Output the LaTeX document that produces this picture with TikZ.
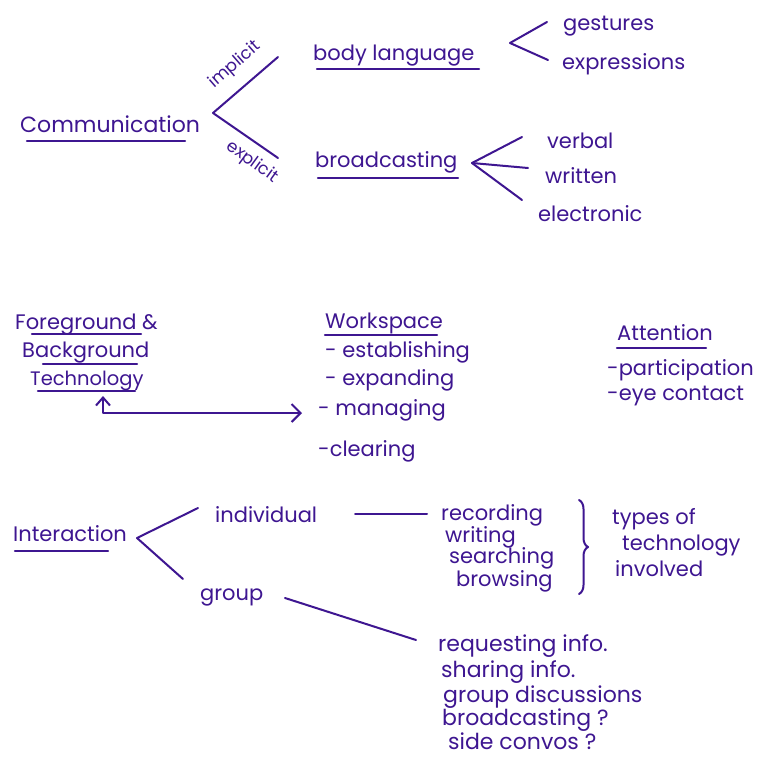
\documentclass[tikz,border=0pt]{standalone}
\usepackage{fontspec}
\setmainfont{Poppins}
\usetikzlibrary{arrows.meta,decorations.pathreplacing}
\definecolor{ink}{RGB}{62,22,145}
\tikzset{
  hand/.style={inner sep=0pt, anchor=base west, text=ink, font=\fontsize{21}{24}\selectfont},
  big/.style={font=\fontsize{22}{26}\selectfont},
  lower/.style={font=\fontsize{22}{26}\selectfont},
  narrow/.style={font=\fontsize{19.5}{22}\selectfont},
  small/.style={font=\fontsize{17}{20}\selectfont},
  ink line/.style={draw=ink, line width=2pt, line cap=round, line join=round},
  ul/.style={ink line, line width=2.2pt},
  barb/.style={ink line, arrows={Straight Barb[length=8pt,width=14pt,line width=2pt]-Straight Barb[length=9pt,width=18pt,line width=2pt]}}
}
\begin{document}
\begin{tikzpicture}[x=1pt,y=-1pt]
\useasboundingbox[fill=white] (0,0) rectangle (765,760);

% ---------- Communication ----------
\node[hand,big] (comm) at (20,132) {Communication};
\draw[ul] (27,141) -- (185,141);
\coordinate (cv) at (213,113);
\coordinate (cu) at (278,57);
\coordinate (cd) at (278,158);
\draw[ink line] (cu) -- (cv) -- (cd);
\node[hand,small,anchor=center,rotate=41] (imp) at (235,65) {implicit};
\node[hand,small,anchor=center,rotate=-36] (exp) at (252,162) {explicit};

\node[hand] (body) at (313,60) {body language};
\draw[ul] (317,69) -- (479,69);
\node[hand] (broad) at (315,167) {broadcasting};
\draw[ul] (318,178) -- (458,178);

\coordinate (bv) at (510,43);
\coordinate (bu) at (547,22);
\coordinate (bd) at (548,60);
\draw[ink line] (bu) -- (bv) -- (bd);
\node[hand] (gest) at (563,31) {gestures};
\node[hand] (expr) at (562,70) {expressions};

\coordinate (fv) at (472,163);
\coordinate (fu) at (522,137);
\coordinate (fm) at (528,168);
\coordinate (fd) at (522,200);
\draw[ink line] (fu) -- (fv) -- (fd);
\draw[ink line] (fv) -- (fm);
\node[hand] (verb) at (547,148) {verbal};
\node[hand] (writ) at (545,183) {written};
\node[hand] (elec) at (538,221) {electronic};

% ---------- Foreground / Workspace / Attention ----------
\node[hand] (fg) at (15,329) {Foreground \&};
\draw[ul] (32,334) -- (141,334);
\node[hand] (bg) at (22,357) {Background};
\draw[ul] (43,364) -- (137,364);
\node[hand,narrow] (tech) at (30,385) {Technology};
\draw[ul] (38,391) -- (135,391);

\node[hand] (ws) at (325,328) {Workspace};
\draw[ul] (325,335) -- (437,335);
\node[hand] (w1) at (325,357) {- establishing};
\node[hand] (w2) at (325,385) {- expanding};
\node[hand] (w3) at (318,415) {- managing};
\node[hand] (w4) at (318,456) {-clearing};

\coordinate (ta) at (103,396);
\coordinate (ma) at (302,413);
\draw[barb] (ta) |- (ma);

\node[hand] (att) at (617,340) {Attention};
\draw[ul] (617,348) -- (706,348);
\node[hand] (a1) at (607,375) {-participation};
\node[hand] (a2) at (607,400) {-eye contact};

% ---------- Interaction ----------
\node[hand] (inter) at (13,541) {Interaction};
\draw[ul] (15,551) -- (108,551);
\coordinate (iv) at (137,538);
\coordinate (iu) at (198,508);
\coordinate (id) at (183,579);
\draw[ink line] (iu) -- (iv) -- (id);
\node[hand] (indiv) at (215,522) {individual};
\node[hand] (grp) at (200,600) {group};

\coordinate (il) at (355,514);
\coordinate (ir) at (427,514);
\draw[ink line] (il) -- (ir);
\node[hand] (r1) at (441,520) {recording};
\node[hand] (r2) at (445,542) {writing};
\node[hand] (r3) at (449,563) {searching};
\node[hand] (r4) at (456,586) {browsing};
\coordinate (brt) at (579,500);
\coordinate (brb) at (579,594);
\draw[ink line, decorate, decoration={brace, amplitude=9pt}] (brt) -- (brb);
\node[hand] (t1) at (612,524) {types of};
\node[hand] (t2) at (622,550) {technology};
\node[hand] (t3) at (615,576) {involved};

\coordinate (gl) at (285,598);
\coordinate (gr) at (416,640);
\draw[ink line] (gl) -- (gr);
\node[hand,lower] (g1) at (438,651) {requesting info.};
\node[hand,lower] (g2) at (441,677) {sharing info.};
\node[hand,lower] (g3) at (443,702) {group discussions};
\node[hand,lower] (g4) at (442,725) {broadcasting ?};
\node[hand,lower] (g5) at (448,749) {side convos ?};
\end{tikzpicture}
\end{document}
